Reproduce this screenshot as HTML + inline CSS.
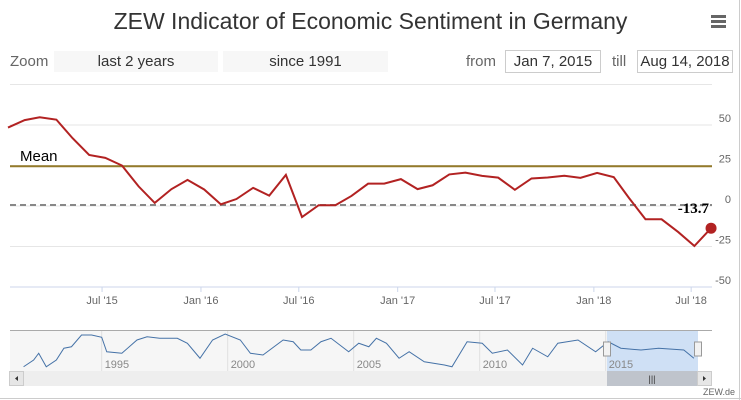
<!DOCTYPE html>
<html><head><meta charset="utf-8"><style>
body{margin:0;width:741px;height:400px;background:#fff;overflow:hidden;font-family:"Liberation Sans Narrow","Liberation Sans",sans-serif;color:#555}
.abs{position:absolute}
.btn{position:absolute;background:#f7f7f7;top:51px;height:21px;font-size:15px;color:#333;text-align:center;line-height:22px}
.inp{position:absolute;top:50px;height:21px;border:1px solid #ccc;font-size:15px;color:#333;text-align:center;line-height:22px}
</style></head><body>
<div class="abs" style="left:0;width:741px;top:8px;text-align:center;font-size:23px;color:#333">ZEW Indicator of Economic Sentiment in Germany</div>
<div class="abs" style="left:711px;top:15px;width:15px;height:12px">
<div style="height:2.5px;background:#666;margin-bottom:2.5px"></div><div style="height:2.5px;background:#666;margin-bottom:2.5px"></div><div style="height:2.5px;background:#666"></div></div>
<div class="abs" style="left:10px;top:53px;font-size:15px;color:#666">Zoom</div>
<div class="btn" style="left:54px;width:164px">last 2 years</div>
<div class="btn" style="left:223px;width:165px">since 1991</div>
<div class="abs" style="left:466px;top:53px;font-size:15px;color:#666">from</div>
<div class="inp" style="left:505px;width:94px">Jan 7, 2015</div>
<div class="abs" style="left:612px;top:53px;font-size:15px;color:#666">till</div>
<div class="inp" style="left:637px;width:94px">Aug 14, 2018</div>
<div class="abs" style="left:739px;top:0;width:1px;height:400px;background:#ccc"></div>
<div class="abs" style="left:0;top:398px;width:741px;height:1px;background:#ccc"></div>
<svg id="svg" width="741" height="400" style="position:absolute;left:0;top:0"></svg>
<script>
const months=["2015-01","2015-02","2015-03","2015-04","2015-05","2015-06","2015-07","2015-08","2015-09","2015-10","2015-11","2015-12","2016-01","2016-02","2016-03","2016-04","2016-05","2016-06","2016-07","2016-08","2016-09","2016-10","2016-11","2016-12","2017-01","2017-02","2017-03","2017-04","2017-05","2017-06","2017-07","2017-08","2017-09","2017-10","2017-11","2017-12","2018-01","2018-02","2018-03","2018-04","2018-05","2018-06","2018-07","2018-08"];
const values=[48.4,53.0,54.8,53.3,41.9,31.5,29.7,25.0,12.1,1.9,10.4,16.1,10.2,1.0,4.3,11.2,6.4,19.2,-6.8,0.5,0.5,6.2,13.8,13.8,16.6,10.4,12.8,19.5,20.6,18.6,17.5,10.0,17.0,17.6,18.7,17.4,20.4,17.8,5.1,-8.2,-8.2,-16.1,-24.7,-13.7];
const yTicks=[50,25,0,-25,-50];
const xTickDates=["2015-07-01","2016-01-01","2016-07-01","2017-01-01","2017-07-01","2018-01-01","2018-07-01"];
const xTickLabels=["Jul '15","Jan '16","Jul '16","Jan '17","Jul '17","Jan '18","Jul '18"];
const meanValue=24.5;
const refValue=0;
const navYears=[1991.9,1992.3,1992.5,1992.8,1993.2,1993.5,1993.8,1994.2,1994.6,1995.0,1995.2,1995.8,1996.4,1996.8,1997.3,1998.0,1998.4,1998.9,1999.4,1999.9,2000.5,2000.9,2001.4,2002.2,2002.6,2002.9,2003.3,2003.7,2004.1,2004.8,2005.2,2005.6,2005.9,2006.3,2006.8,2007.2,2007.8,2008.6,2008.9,2009.5,2010.1,2010.5,2011.1,2011.7,2012.1,2012.7,2013.1,2013.9,2014.6,2015.1,2015.6,2016.4,2017.1,2018.1,2018.5];
const navValues=[-53,-26,1,-53,-26,21,27,74,74,65,7,1,54,67,61,61,41,-19,54,78,54,1,-6,54,47,14,14,47,61,7,41,27,61,41,-19,7,-33,-46,-53,47,41,1,14,-46,21,-13,41,54,7,47,21,14,21,14,-19];
const navLabels=[1995,2000,2005,2010,2015];

const NS="http://www.w3.org/2000/svg",svg=document.getElementById('svg');
function mk(t,a,p){const e=document.createElementNS(NS,t);for(const k in a)e.setAttribute(k,a[k]);(p||svg).appendChild(e);return e;}
const t0=Date.UTC(2015,0,7);
function xd(d){return 8+(d-t0)/864e5*0.5375;}
function xm(m){const [y,mo]=m.split('-').map(Number);return xd(Date.UTC(y,mo-1,7));}
function ys(v){return 206-v*1.62;}
function xn(yr){return 101.7+(yr-1995)*25.2;}
function yn(v){return 371-(v+70)/160*40;}

let l=mk('line',{x1:10,x2:712,y1:84.5,y2:84.5,stroke:'#e6e6e6'});

yTicks.forEach(v=>{
 const g=mk('line',{x1:10,x2:712,y1:ys(v),y2:ys(v),stroke:v==-50?'#ccd6eb':'#e6e6e6'});
 
 const t=mk('text',{x:731,y:ys(v)-3,'text-anchor':'end','font-size':11,fill:'#666'});t.textContent=v;
 
});
xTickDates.forEach((d,i)=>{
 const [y,m,dd]=d.split('-').map(Number);const x=xd(Date.UTC(y,m-1,dd));
 const tk=mk('line',{x1:x,x2:x,y1:287,y2:292,stroke:'#ccd6eb'});
 
 const t=mk('text',{x:x,y:304,'text-anchor':'middle','font-size':11,fill:'#666'});t.textContent=xTickLabels[i];
 
});
const ml=mk('line',{x1:10,x2:712,y1:ys(meanValue),y2:ys(meanValue),stroke:'#947a2a','stroke-width':2});

const mt=mk('text',{x:20,y:161,'font-size':15,fill:'#000'});mt.textContent='Mean';

const rl=mk('line',{x1:10,x2:712,y1:ys(refValue)-1,y2:ys(refValue)-1,stroke:'#888','stroke-width':2,'stroke-dasharray':'6,4'});

const pts=months.map((m,i)=>[xm(m),ys(values[i])]);
const sl=mk('polyline',{points:pts.map(p=>p.join(',')).join(' '),fill:'none',stroke:'#b22222','stroke-width':2});

const lp=pts[pts.length-1];
const dot=mk('circle',{cx:lp[0],cy:lp[1],r:5.5,fill:'#b22222'});

const lv=mk('text',{x:lp[0]-2,y:213,'text-anchor':'end','font-size':15,'font-weight':'bold',fill:'#000','font-family':'Liberation Serif,serif'});lv.textContent=values[values.length-1];


// navigator
const nb=mk('rect',{x:10,y:331,width:688,height:40,fill:'#f6f6f6'});

const sel=mk('rect',{x:607,y:331,width:91,height:40,fill:'#cfe0f5'});

navLabels.forEach(yr=>{
 const x=xn(yr);
 const g=mk('line',{x1:x,x2:x,y1:331,y2:371,stroke:'#e0e0e0'});
 
 const t=mk('text',{x:x+3,y:368,'font-size':11,fill:'#888'});t.textContent=yr;
 
});
const nt=mk('line',{x1:10,x2:712,y1:330.5,y2:330.5,stroke:'#aaa'});

const nl=mk('polyline',{points:navYears.map((y,i)=>xn(y)+','+yn(navValues[i])).join(' '),fill:'none',stroke:'#4572a7','stroke-width':1});

[607,698].forEach(x=>{
 const h=mk('rect',{x:x-3.5,y:342,width:7,height:14,fill:'#f2f2f2',stroke:'#999'});
 
});
const sb=mk('rect',{x:10,y:371,width:701,height:15,fill:'#eee'});

const th=mk('rect',{x:607,y:371,width:91,height:15,fill:'#bfc4cc'});

const tt=mk('text',{x:652,y:382,'text-anchor':'middle','font-size':9,fill:'#333'});tt.textContent='|||';

const lb=mk('rect',{x:9.5,y:371.5,width:14,height:14,fill:'#e6e6e6',stroke:'#ccc'});

mk('path',{d:'M18,376 L15,378.5 L18,381 Z',fill:'#333'});
const rb=mk('rect',{x:697.5,y:371.5,width:14,height:14,fill:'#e6e6e6',stroke:'#ccc'});

mk('path',{d:'M703,376 L706,378.5 L703,381 Z',fill:'#333'});
const cr=mk('text',{x:735,y:395,'text-anchor':'end','font-size':9,fill:'#666'});cr.textContent='ZEW.de';

</script>
</body></html>
